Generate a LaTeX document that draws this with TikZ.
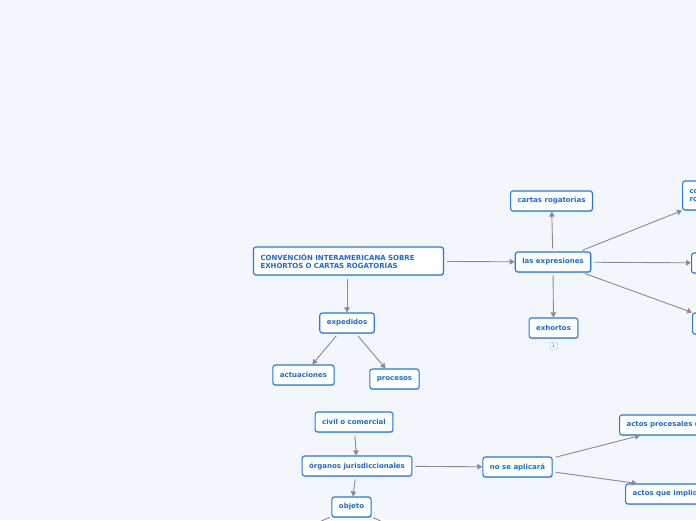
\documentclass[tikz,border=0pt]{standalone}
\usepackage{fontspec}
\setmainfont{DejaVu Sans}
\usetikzlibrary{arrows.meta,shadows}

\definecolor{bgpaper}{RGB}{243,246,253}
\definecolor{boxline}{RGB}{34,122,224}
\definecolor{boxtext}{RGB}{28,108,208}
\definecolor{linkgray}{RGB}{138,138,144}

\begin{document}
\begin{tikzpicture}[x=1pt,y=-1pt,
  concept/.style={draw=boxline, line width=1.1pt, fill=white, rounded corners=2.5pt,
    text=boxtext, font=\fontsize{7}{8.2}\selectfont\bfseries,
    minimum height=20pt, inner xsep=7pt, inner ysep=2pt,
    drop shadow={shadow xshift=0.6pt, shadow yshift=-0.9pt, opacity=0.18, fill=black}},
  link/.style={draw=linkgray, line width=0.9pt, shorten <=3pt,
    -{Triangle[width=5.5pt,length=5pt]}},
  badge/.style={draw=boxline!45, line width=0.5pt, fill=white, rounded corners=1.2pt,
    text=boxtext, font=\fontsize{5}{5}\selectfont, inner sep=1pt, minimum width=7pt, minimum height=7pt}]
  \useasboundingbox (0,0) rectangle (696,520);
  \clip (0,0) rectangle (696,520);
  \fill[bgpaper] (0,0) rectangle (696,520);

  % Title and first branch
  \node[concept, minimum height=28pt, text width=176pt, align=left] (title) at (348.5,261)
    {CONVENCIÓN INTERAMERICANA SOBRE\\EXHORTOS O CARTAS ROGATORIAS};
  \node[concept] (expedidos) at (347,323) {expedidos};
  \node[concept] (actuaciones) at (303.5,375) {actuaciones};
  \node[concept] (procesos) at (394.5,379) {procesos};

  % Expressions
  \node[concept] (expresiones) at (553,262) {las expresiones};
  \node[concept] (cartas) at (551.5,201) {cartas rogatorias};
  \node[concept] (exhortos) at (553.5,328) {exhortos};
  \node[badge] (nota) at (553.5,345.5) {1};
  \node[concept, anchor=west, minimum height=29pt, align=left] (comisiones) at (682,195.5)
    {commissions\\rogatoires};
  \node[concept, anchor=west, minimum width=60pt] (derecha) at (691,263) {};
  \node[concept, anchor=west, minimum width=60pt, minimum height=21pt] (abajo) at (692,323.5) {};

  % Scope of application
  \node[concept] (civil) at (354,422) {civil o comercial};
  \node[concept] (organos) at (357,466) {órganos jurisdiccionales};
  \node[concept] (objeto) at (351.5,507) {objeto};
  \node[concept] (noaplica) at (517.5,467) {no se aplicará};
  \node[concept, anchor=west] (procesales) at (619,425) {actos procesales que};
  \node[concept, anchor=west] (implican) at (625,494) {actos que impliquen};
  \coordinate (objizq) at (270,545);
  \coordinate (objder) at (430,545);

  \draw[link] (title) -- (expresiones);
  \draw[link] (title.south -| expedidos.north) -- (expedidos);
  \draw[link] (expedidos) -- (actuaciones);
  \draw[link] (expedidos) -- (procesos);
  \draw[link] (expresiones) -- (cartas);
  \draw[link] (expresiones) -- (exhortos);
  \draw[link] (expresiones) -- (comisiones.south west);
  \draw[link] (expresiones) -- (derecha);
  \draw[link] (expresiones) -- (abajo);
  \draw[link] (civil) -- (organos);
  \draw[link] (organos) -- (noaplica);
  \draw[link] (organos) -- (objeto);
  \draw[link] (noaplica) -- (procesales.south west -| 640,0);
  \draw[link] (noaplica) -- (implican.north west -| 637,0);
  \draw[draw=linkgray, line width=0.9pt, shorten <=2pt] (objeto) -- (objizq);
  \draw[draw=linkgray, line width=0.9pt, shorten <=2pt] (objeto) -- (objder);
\end{tikzpicture}
\end{document}
